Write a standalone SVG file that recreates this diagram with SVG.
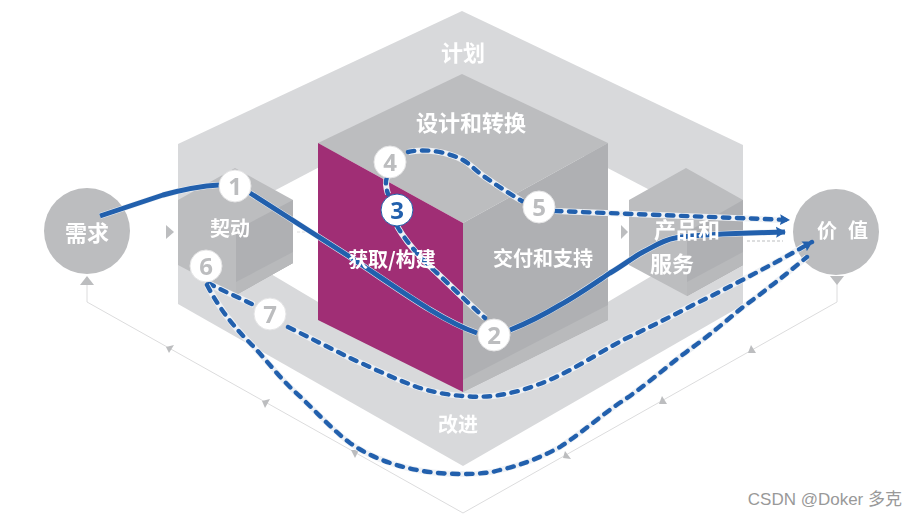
<svg xmlns="http://www.w3.org/2000/svg" width="917" height="519" viewBox="0 0 917 519">
<defs>
<filter id="soft" x="-5%" y="-5%" width="110%" height="110%"><feGaussianBlur stdDeviation="0.55"/></filter>
<marker id="arr" markerUnits="userSpaceOnUse" markerWidth="12" markerHeight="12" refX="9" refY="6" orient="auto"><path d="M0,0.5 L10,6 L0,11.5 L1.5,6 Z" fill="#2260ad"/></marker>
</defs>
<style>
.t{font-family:"Noto Sans CJK SC","Microsoft YaHei",sans-serif;font-weight:700;fill:#fff;font-size:20px;text-anchor:middle}
.t22{font-size:22px}
.solid{fill:none;stroke:#2260ad;stroke-width:5;stroke-linejoin:round}
.dash{fill:none;stroke:#2260ad;stroke-width:4.4;stroke-dasharray:6.5 7.5;stroke-linecap:round}
.haloD{fill:none;stroke:#eef1f5;stroke-width:6}
.num{fill:#fff;stroke:#e4e4e5;stroke-width:1}
.nt{font-family:"Open Sans","Noto Sans",sans-serif;font-weight:700;font-size:24px;fill:#bcbdbf;text-anchor:middle}
.tri{fill:#bcbdbf}
.gl{fill:none;stroke:#dcdcdd;stroke-width:1}
</style>
<g filter="url(#soft)">
<g id="plan">
<path d="M462,11 L743,145 L743,305 L463,466 L178,304 L178,144 Z" fill="#d8d9db"/>
<path d="M462,92 L692,212 L692,252 L463,388 L234,252 L234,212 Z" fill="#fff"/>
<text class="t t22" x="463" y="61">计划</text>
<text class="t" x="458" y="432">改进</text>
</g>
<g id="frame">
<path class="gl" d="M87,280 V302 L463,513 L837,302 V280"/>
<path class="tri" d="M87,276 L94,285 L80,285 Z"/>
<path class="tri" d="M837,285 L830,276 L844,276 Z"/>
<path class="tri" d="M166,347 L174,345 L169,353 Z"/>
<path class="tri" d="M262,401 L270,399 L265,408 Z"/>
<path class="tri" d="M351,450 L359,450 L355,458 Z"/>
<path class="tri" d="M751,345 L748,353 L756,353 Z"/>
<path class="tri" d="M662,396 L659,404 L667,404 Z"/>
<path class="tri" d="M565,451 L563,458 L571,459 Z"/>
<path class="tri" d="M166,225 L174,232 L166,239 Z"/>
<path class="tri" d="M621,225 L628,232 L621,239 Z"/>
<path d="M297,232 H316" stroke="#dcdcdd" stroke-dasharray="3 2" fill="none"/>
<path d="M747,241 H783" stroke="#bcbdbf" stroke-width="1.2" stroke-dasharray="3 2" fill="none"/>
</g>
<g id="demand">
<circle cx="87" cy="231" r="43" fill="#bcbdbf"/>
<text class="t t22" x="87" y="241">需求</text>
</g>
<g id="value">
<circle cx="836" cy="232" r="43" fill="#bcbdbf"/>
<text class="t" x="827" y="238">价</text>
<text class="t" x="858" y="238">值</text>
</g>
<g id="engage">
<path d="M235,168 L293,200 L293,263 L235,295 L178,265 L178,200 Z" fill="#bcbdbf"/>
<path d="M293,200 L236,230 L236,295 L293,263 Z" fill="#afb0b3"/>
<path d="M293,252 L236,282 L236,295 L293,263 Z" fill="#b8b9bb"/>
<text class="t" x="230" y="236">契动</text>
</g>
<g id="product">
<path d="M686,168 L743,200 L743,265 L687,296 L629,265 L629,200 Z" fill="#bcbdbf"/>
<path d="M743,200 L687,232 L687,296 L743,265 Z" fill="#afb0b3"/>
<path d="M743,252 L687,282 L687,296 L743,265 Z" fill="#b8b9bb"/>
</g>
<g id="design">
<path d="M462,74 L608,143 L463,223 L318,143 Z" fill="#bcbdbf"/>
<text class="t t22" x="471" y="131">设计和转换</text>
</g>
<g id="obtain">
<path d="M318,143 L463,223 L463,392 L318,320 Z" fill="#a02d75"/>
</g>
<g id="deliver">
<path d="M463,223 L608,143 L608,320 L463,392 Z" fill="#afb0b3"/>
<path d="M463,380 L608,305 L608,320 L463,392 Z" fill="#b9babc"/>
<text class="t" x="543" y="266">交付和支持</text>
</g>
<g id="connectors">
<path class="haloD" d="M100,216 L163,195 C185,189 200,186 219,185"/>
<path class="solid" d="M100,216 L163,195 C185,189 200,186 219,185"/>
<path class="haloD" d="M250,193 L347,255 C400,290 440,320 477,333"/>
<path class="solid" d="M250,193 L347,255 C400,290 440,320 477,333"/>
<path class="haloD" d="M510,330 C530,322 545,314 560,305 C578,295 595,283 610,273 C622,266 632,258 643,252 C655,246 663,240 675,238 C690,235 720,234 750,233 L778,232"/>
<path class="solid" d="M510,330 C530,322 545,314 560,305 C578,295 595,283 610,273 C622,266 632,258 643,252 C655,246 663,240 675,238 C690,235 720,234 750,233 L785,232" marker-end="url(#arr)"/>
<path class="haloD" d="M387,177 C385,183 386,188 388,194"/>
<path class="dash" d="M387,177 C385,183 386,188 388,194"/>
<path class="haloD" d="M397,226 C405,240 420,258 437,273 C455,290 470,305 485,318"/>
<path class="dash" d="M397,226 C405,240 420,258 437,273 C455,290 470,305 485,318"/>
<path class="haloD" d="M408,152 C425,148 448,152 463,160 C470,164 475,170 482,175 C495,184 508,193 522,201"/>
<path class="dash" d="M408,152 C425,148 448,152 463,160 C470,164 475,170 482,175 C495,184 508,193 522,201"/>
<path class="haloD" d="M555,211 L782,220"/>
<path class="dash" d="M555,211 L789,220" marker-end="url(#arr)"/>
<path class="haloD" d="M208,283 C225,292 240,298 254,305"/>
<path class="dash" d="M208,283 C225,292 240,298 254,305"/>
<path class="haloD" d="M288,327 C310,338 330,348 350,358 C372,368 395,379 417,387 C432,392 448,395 463,396 C473,397 483,397 493,396 C517,393 540,385 560,375 C583,364 605,349 627,338 C650,327 672,316 693,305 C722,291 752,275 780,260 L806,245"/>
<path class="dash" d="M288,327 C310,338 330,348 350,358 C372,368 395,379 417,387 C432,392 448,395 463,396 C473,397 483,397 493,396 C517,393 540,385 560,375 C583,364 605,349 627,338 C650,327 672,316 693,305 C722,291 752,275 780,260 L812,242" marker-end="url(#arr)"/>
<path class="haloD" d="M207,285 C220,310 235,328 250,343 C265,358 278,376 293,390 C312,407 330,428 350,443 C370,457 392,465 417,470 C432,473 448,474 463,474 C478,474 490,473 500,470 C522,465 542,457 560,447 C583,432 605,412 627,398 C650,382 672,362 693,347 C710,335 727,320 743,307 C757,297 768,288 780,279 L807,257"/>
<path class="dash" d="M207,285 C220,310 235,328 250,343 C265,358 278,376 293,390 C312,407 330,428 350,443 C370,457 392,465 417,470 C432,473 448,474 463,474 C478,474 490,473 500,470 C522,465 542,457 560,447 C583,432 605,412 627,398 C650,382 672,362 693,347 C710,335 727,320 743,307 C757,297 768,288 780,279 L807,257"/>
</g>
<g id="obtain-label"><text class="t" x="392" y="267">获取/构建</text></g>
<g id="product-label">
<text class="t t22" x="687" y="238">产品和</text>
<text class="t t22" x="672" y="272">服务</text>
</g>
<g id="n1"><circle class="num" cx="235" cy="186" r="16"/><text class="nt" x="235" y="195">1</text></g>
<g id="n2"><circle class="num" cx="494" cy="335" r="16"/><text class="nt" x="494" y="344">2</text></g>
<g id="n3"><circle cx="397" cy="210" r="16" fill="#fff" stroke="#2260ad" stroke-width="1"/><text class="nt" x="397" y="219" style="fill:#2260ad">3</text></g>
<g id="n4"><circle class="num" cx="390" cy="162" r="16"/><text class="nt" x="390" y="171">4</text></g>
<g id="n5"><circle class="num" cx="539" cy="207" r="16"/><text class="nt" x="539" y="216">5</text></g>
<g id="n6"><circle class="num" cx="206" cy="266" r="16"/><text class="nt" x="206" y="275">6</text></g>
<g id="n7"><circle class="num" cx="270" cy="314" r="16"/><text class="nt" x="270" y="323">7</text></g>
</g>
<text x="902" y="505" text-anchor="end" font-family="'Liberation Sans','Noto Sans CJK SC',sans-serif" font-size="17" fill="#999">CSDN @Doker 多克</text>
</svg>
